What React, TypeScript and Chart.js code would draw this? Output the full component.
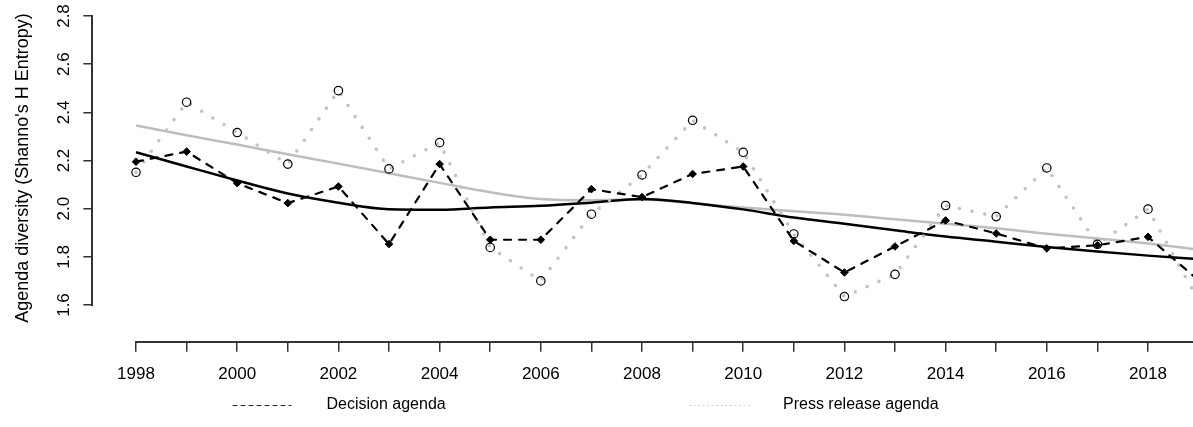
import React, { useEffect, useRef } from "react";
import { Chart, registerables } from "chart.js";

Chart.register(...registerables);

// ---------- data ----------
const years = [1998, 1999, 2000, 2001, 2002, 2003, 2004, 2005, 2006, 2007, 2008, 2009, 2010, 2011, 2012, 2013, 2014, 2015, 2016, 2017, 2018, 2019];

const decisionAgenda = [2.195, 2.237, 2.106, 2.023, 2.092, 1.853, 2.185, 1.871, 1.871, 2.081, 2.048, 2.144, 2.175, 1.866, 1.735, 1.843, 1.951, 1.897, 1.835, 1.848, 1.883, 1.702];

const pressReleaseAgenda = [2.151, 2.442, 2.316, 2.185, 2.490, 2.165, 2.274, 1.839, 1.700, 1.977, 2.140, 2.367, 2.234, 1.895, 1.635, 1.727, 2.013, 1.967, 2.169, 1.852, 1.998, 1.618];

const decisionTrend = [2.234, 2.175, 2.117, 2.063, 2.025, 1.998, 1.996, 2.005, 2.012, 2.025, 2.040, 2.024, 1.997, 1.963, 1.937, 1.910, 1.884, 1.863, 1.841, 1.822, 1.805, 1.790];

const pressTrend = [2.345, 2.305, 2.266, 2.226, 2.187, 2.147, 2.107, 2.068, 2.040, 2.035, 2.038, 2.022, 2.005, 1.989, 1.975, 1.956, 1.937, 1.919, 1.896, 1.876, 1.855, 1.830];

const xTickYears = [1998, 1999, 2000, 2001, 2002, 2003, 2004, 2005, 2006, 2007, 2008, 2009, 2010, 2011, 2012, 2013, 2014, 2015, 2016, 2017, 2018];
const xTickLabels = ["1998", "", "2000", "", "2002", "", "2004", "", "2006", "", "2008", "", "2010", "", "2012", "", "2014", "", "2016", "", "2018"];

const yTicks = [1.6, 1.8, 2.0, 2.2, 2.4, 2.6, 2.8];
const yTickLabels = ["1.6", "1.8", "2.0", "2.2", "2.4", "2.6", "2.8"];

const yTitle = "Agenda diversity (Shanno's H Entropy)";
const legendLabels = ["Decision agenda", "Press release agenda"];

const FONT = "'Liberation Sans', Arial, Helvetica, sans-serif";
const AXIS_COLOR = "#333";

const toPoints = (vals: number[]) => years.map((y, i) => ({ x: y, y: vals[i] }));

const decorPlugin = {
  id: "decor",
  afterDraw(chart: any) {
    const { ctx, chartArea, scales } = chart;
    const xs = scales.x;
    const ys = scales.y;
    ctx.save();
    ctx.setLineDash([]);
    ctx.fillStyle = AXIS_COLOR;
    // y axis line (spans the tick range, R style)
    const ax = Math.round(chartArea.left) - 2;
    const yTop = Math.round(ys.getPixelForValue(yTicks[yTicks.length - 1])) - 1;
    const yBot = Math.round(ys.getPixelForValue(yTicks[0])) + 1;
    ctx.fillRect(ax, yTop, 2, yBot - yTop);
    // x axis line (from first tick to the right edge)
    const ay = Math.round(chartArea.bottom) - 1;
    const xStart = Math.round(xs.getPixelForValue(xTickYears[0])) - 1;
    ctx.fillRect(xStart, ay, 1193 - xStart, 2);

    // y tick labels, rotated
    ctx.fillStyle = "#000";
    ctx.font = `17px ${FONT}`;
    ctx.textAlign = "center";
    ctx.textBaseline = "middle";
    yTicks.forEach((v, i) => {
      const py = ys.getPixelForValue(v);
      ctx.save();
      ctx.translate(64, py);
      ctx.rotate(-Math.PI / 2);
      ctx.fillText(yTickLabels[i], 0, 0);
      ctx.restore();
    });

    // y axis title
    ctx.font = `18px ${FONT}`;
    ctx.save();
    ctx.translate(23, 168);
    ctx.rotate(-Math.PI / 2);
    ctx.fillText(yTitle, 0, 0);
    ctx.restore();

    // legend
    const ly = 405;
    ctx.lineWidth = 1;
    ctx.strokeStyle = "#222";
    ctx.lineCap = "round";
    ctx.setLineDash([4, 4]);
    ctx.beginPath();
    ctx.moveTo(233, ly + 0.5);
    ctx.lineTo(291, ly + 0.5);
    ctx.stroke();
    ctx.strokeStyle = "#c4c4c4";
    ctx.setLineDash([0.5, 4]);
    ctx.beginPath();
    ctx.moveTo(690, ly + 0.5);
    ctx.lineTo(750, ly + 0.5);
    ctx.stroke();
    ctx.setLineDash([]);
    ctx.textAlign = "left";
    ctx.fillStyle = "#000";
    ctx.font = `16px ${FONT}`;
    ctx.fillText(legendLabels[0], 326.5, ly);
    ctx.fillText(legendLabels[1], 783, ly);
    ctx.restore();
  },
};

export default function App() {
  const ref = useRef<HTMLCanvasElement | null>(null);

  useEffect(() => {
    if (!ref.current) return;
    Chart.defaults.font.family = FONT;
    Chart.defaults.font.size = 16;
    Chart.defaults.color = "#000";
    const chart = new Chart(ref.current, {
      type: "line",
      data: {
        datasets: [
          {
            label: legendLabels[0],
            data: toPoints(decisionAgenda),
            borderColor: "#000",
            borderWidth: 2.2,
            borderDash: [7, 8],
            borderCapStyle: "round",
            tension: 0,
            pointStyle: "rectRot",
            pointRadius: 3.8,
            pointBackgroundColor: "#000",
            pointBorderColor: "#000",
            pointBorderWidth: 1,
          },
          {
            label: legendLabels[1],
            data: toPoints(pressReleaseAgenda),
            borderColor: "#c2c2c2",
            borderWidth: 3.6,
            borderDash: [0, 13],
            borderCapStyle: "round",
            tension: 0,
            pointStyle: "circle",
            pointRadius: 4.2,
            pointBackgroundColor: "rgba(0,0,0,0)",
            pointBorderColor: "#000",
            pointBorderWidth: 1.2,
          },
          {
            label: "Decision trend",
            data: toPoints(decisionTrend),
            borderColor: "#000",
            borderWidth: 2.5,
            cubicInterpolationMode: "monotone",
            pointRadius: 0,
          },
          {
            label: "Press trend",
            data: toPoints(pressTrend),
            borderColor: "#bdbdbd",
            borderWidth: 2.5,
            cubicInterpolationMode: "monotone",
            pointRadius: 0,
          },
        ],
      },
      options: {
        animation: false,
        responsive: false,
        maintainAspectRatio: false,
        devicePixelRatio: 1,
        events: [],
        layout: { autoPadding: false, padding: { left: 83.3, right: 0, top: 6, bottom: 42.3 } },
        plugins: {
          legend: { display: false },
          tooltip: { enabled: false },
          title: { display: false },
        },
        scales: {
          x: {
            type: "linear",
            position: "bottom",
            min: 1997.156,
            max: 2018.889,
            afterBuildTicks: (s: any) => {
              s.ticks = xTickYears.map((v) => ({ value: v }));
            },
            afterFit: (s: any) => {
              s.height = 43;
              s.paddingLeft = 0;
              s.paddingRight = 0;
            },
            grid: { drawOnChartArea: false, drawTicks: true, tickLength: 10, color: AXIS_COLOR, lineWidth: 1.5 },
            border: { display: false },
            ticks: {
              autoSkip: false,
              maxRotation: 0,
              minRotation: 0,
              padding: 12.6,
              color: "#000",
              font: { size: 17, family: FONT },
              callback: (_v: any, i: number) => xTickLabels[i],
            },
          },
          y: {
            type: "linear",
            position: "left",
            min: 1.4476,
            max: 2.8415,
            afterBuildTicks: (s: any) => {
              s.ticks = yTicks.map((v) => ({ value: v }));
            },
            afterFit: (s: any) => {
              s.width = 10;
              s.paddingTop = 0;
              s.paddingBottom = 0;
            },
            grid: { drawOnChartArea: false, drawTicks: true, tickLength: 10, color: AXIS_COLOR, lineWidth: 1.5 },
            border: { display: false },
            ticks: { display: false },
          },
        },
      },
      plugins: [decorPlugin],
    } as any);
    return () => chart.destroy();
  }, []);

  return (
    <div style={{ position: "absolute", left: 0, top: 0, width: 1193, height: 427, background: "#fff" }}>
      <canvas ref={ref} width={1193} height={427} style={{ display: "block", width: 1193, height: 427 }} />
    </div>
  );
}
